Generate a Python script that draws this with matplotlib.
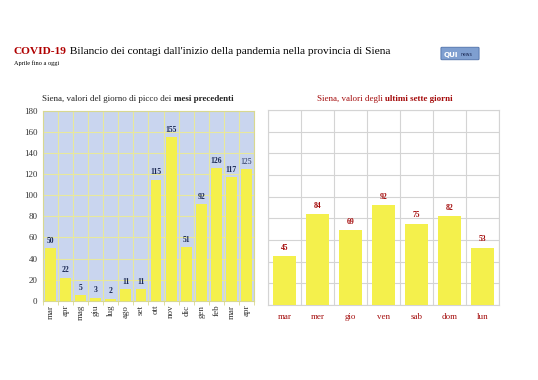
import matplotlib.pyplot as plt
from matplotlib.patches import FancyBboxPatch

# data
mesi = ["mar", "apr", "mag", "giu", "lug", "ago", "set", "ott", "nov", "dic", "gen", "feb", "mar", "apr"]
picchi = [50, 22, 5, 3, 2, 11, 11, 115, 155, 51, 92, 126, 117, 125]
giorni = ["mar", "mer", "gio", "ven", "sab", "dom", "lun"]
ultimi = [45, 84, 69, 92, 75, 82, 53]

plt.rcParams['font.family'] = ['Liberation Serif', 'DejaVu Serif']

YELLOW = "#f4f04c"
NAVY = "#1c2a55"
DARKRED = "#a50d0d"

fig = plt.figure(figsize=(5.38, 3.80), dpi=100)
renderer = fig.canvas.get_renderer()


def mixed_text(x, y, parts, size, color, ha="left"):
    # draw consecutive text pieces (normal / bold) on one line
    widths = []
    for s, w in parts:
        t = fig.text(0, 0, s, fontsize=size, fontweight=w)
        bb = t.get_window_extent(renderer)
        widths.append(bb.width / fig.bbox.width)
        t.remove()
    total = sum(widths)
    cx = x - total / 2 if ha == "center" else x
    for (s, w), wd in zip(parts, widths):
        c = color[s] if isinstance(color, dict) else color
        fig.text(cx, y, s, fontsize=size, fontweight=w, color=c, va="baseline")
        cx += wd


title_rest = " Bilancio dei contagi dall'inizio della pandemia nella provincia di Siena"
mixed_text(14 / 538, 1 - 54 / 380,
           [("COVID-19", "bold"), (title_rest, "normal")],
           8.2, {"COVID-19": "#b00000", title_rest: "black"})
fig.text(14 / 538, 1 - 65 / 380, "Aprile fino a oggi", fontsize=4.5)

# logo
fig.patches.append(FancyBboxPatch((442 / 538, 1 - 59 / 380), 36 / 538, 11 / 380,
                                  boxstyle="round,pad=0.002", transform=fig.transFigure,
                                  facecolor="#7f9fd0", edgecolor="#4c6ea8", linewidth=0.6))
fig.text(444 / 538, 1 - 57 / 380, "QUI", fontsize=5.2, fontweight="bold", color="white",
         family="DejaVu Sans")
fig.text(461 / 538, 1 - 56.5 / 380, "news", fontsize=3.3, color="#1c2a55", family="DejaVu Sans")

mixed_text(138 / 538, 1 - 101 / 380,
           [("Siena, valori del giorno di picco dei ", "normal"), ("mesi precedenti", "bold")],
           6.5, "#222222", ha="center")
mixed_text(385 / 538, 1 - 101 / 380,
           [("Siena, valori degli ", "normal"), ("ultimi sette giorni", "bold")],
           6.5, DARKRED, ha="center")

# left chart
ax1 = fig.add_axes([43 / 538, 1 - 300.7 / 380, 211 / 538, 189.7 / 380])
x1 = range(len(mesi))
ax1.set_facecolor("#c9d5ef")
ax1.bar(x1, picchi, width=0.72, color=YELLOW, zorder=3)
ax1.set_xlim(-0.5, len(mesi) - 0.5)
ax1.set_ylim(0, 180)
ax1.set_yticks(range(0, 181, 20))
ax1.set_xticks(list(x1))
ax1.set_xticklabels(mesi, rotation=90, fontsize=6.5, color="#333333")
ax1.set_xticks([i + 0.5 for i in range(-1, len(mesi))], minor=True)
ax1.tick_params(axis="y", labelsize=6.5, labelcolor="#333333", length=0, pad=4)
ax1.tick_params(axis="x", which="major", length=0, pad=3)
ax1.tick_params(axis="x", which="minor", length=3, color="#d8d890")
ax1.grid(True, axis="y", color="#e8e89c", linewidth=0.8, zorder=1)
ax1.grid(True, axis="x", which="minor", color="#e8e89c", linewidth=0.8, zorder=1)
for s in ax1.spines.values():
    s.set_color("#d8d890")
    s.set_linewidth(0.8)
for i, v in enumerate(picchi):
    ax1.text(i, v + 3, str(v), ha="center", va="bottom", fontsize=5.5,
             fontweight="normal" if i == len(picchi) - 1 else "bold", color=NAVY, zorder=4)

# right chart
ax2 = fig.add_axes([268 / 538, 1 - 305 / 380, 231 / 538, 195 / 380])
x2 = range(len(giorni))
ax2.bar(x2, ultimi, width=0.7, color=YELLOW, zorder=3)
ax2.set_xlim(-0.5, len(giorni) - 0.5)
ax2.set_ylim(0, 180)
ax2.set_yticks(range(0, 181, 20))
ax2.set_yticklabels([])
ax2.set_xticks(list(x2))
ax2.set_xticklabels(giorni, fontsize=6.5, color=DARKRED)
ax2.set_xticks([i + 0.5 for i in range(-1, len(giorni))], minor=True)
ax2.tick_params(axis="both", which="both", length=0)
ax2.tick_params(axis="x", pad=6)
ax2.grid(True, axis="y", color="#d4d4d4", linewidth=0.8, zorder=1)
ax2.grid(True, axis="x", which="minor", color="#d4d4d4", linewidth=0.8, zorder=1)
for s in ax2.spines.values():
    s.set_color("#d4d4d4")
    s.set_linewidth(0.8)
for i, v in enumerate(ultimi):
    ax2.text(i, v + 4, str(v), ha="center", va="bottom", fontsize=5.5,
             fontweight="bold", color=DARKRED, zorder=4)

fig.savefig("out.png", dpi=100)
